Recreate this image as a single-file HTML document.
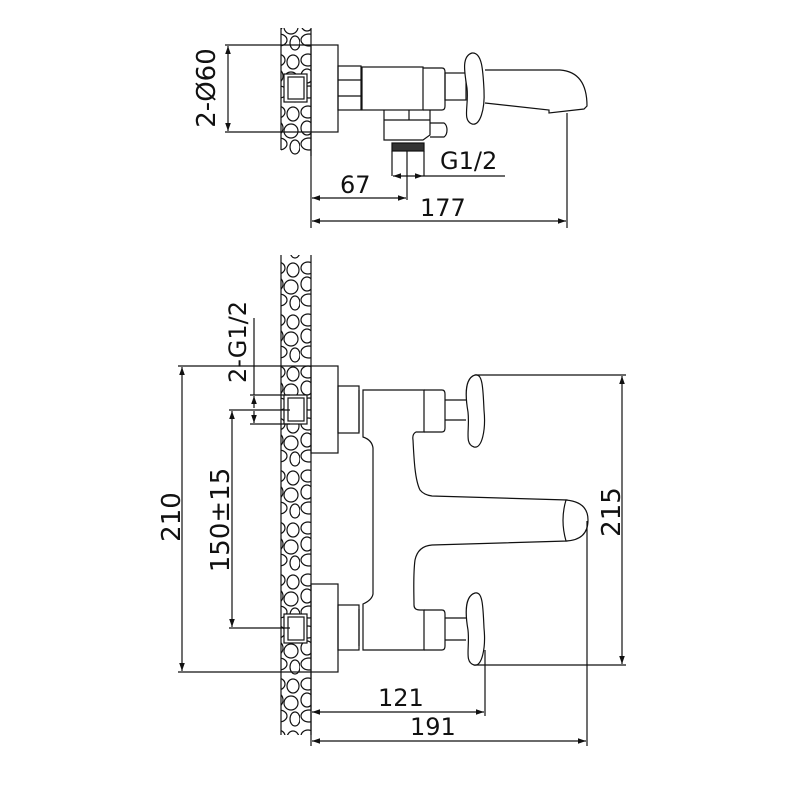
<!DOCTYPE html>
<html><head><style>body{margin:0;background:#fff}svg{display:block}</style></head><body>
<svg width="800" height="800" viewBox="0 0 800 800" xmlns="http://www.w3.org/2000/svg" font-family="'DejaVu Sans','Liberation Sans',sans-serif" font-size="22" fill="none" stroke="#111" stroke-width="1.2">
<defs>
<pattern id="peb" width="30" height="52" patternUnits="userSpaceOnUse">
<ellipse cx="8" cy="8" rx="7" ry="6"/><ellipse cx="23" cy="10" rx="6" ry="7"/>
<ellipse cx="7" cy="24" rx="6" ry="7"/><ellipse cx="21" cy="27" rx="7" ry="7"/>
<ellipse cx="9" cy="40" rx="8" ry="6"/><ellipse cx="25" cy="43" rx="5" ry="7"/>
</pattern>
<marker id="a" viewBox="0 0 10 10" refX="10" refY="5" markerWidth="11" markerHeight="8" orient="auto-start-reverse" markerUnits="userSpaceOnUse"><path d="M0,1.5L10,5L0,8.5z" fill="#111" stroke="none"/></marker>
</defs>

<!-- TOP VIEW -->
<rect x="281" y="28" width="30" height="128" fill="url(#peb)" stroke="none"/>
<path d="M281,28V150M311,28V156"/>
<rect x="284" y="74" width="23" height="28" fill="#fff"/>
<rect x="288" y="77" width="16" height="22"/>
<rect x="311" y="45" width="27" height="87"/>
<rect x="338" y="66" width="23" height="44"/>
<path d="M338,80H361M338,96H361"/>
<rect x="362" y="67" width="61" height="43"/>
<path d="M423,68H442Q445,68 445,72V106Q445,110 442,110H423"/>
<rect x="445" y="73" width="21" height="27"/>
<path d="M472,53C462,56 464,70 467,88C469,106 462,120 472,124C480,126 485,110 484,90C483,70 482,52 472,53Z" fill="#fff"/>
<path d="M485,70H560Q587,72 587,106L584,109L549,113V110L485,103"/>
<path d="M384,110V140H423L430,135V110M384,120H430M409,110V120"/>
<path d="M430,123H444Q447,125 447,130Q447,135 444,137H430"/>
<rect x="392" y="143" width="32" height="8" fill="#333"/>
<path d="M392,151V176M424,151V176M407,151V200"/>
<!-- dims top -->
<path d="M225,45H311M225,132H311"/>
<line x1="228" y1="46" x2="228" y2="131" marker-start="url(#a)" marker-end="url(#a)"/>
<text transform="translate(215,88) rotate(-90)" text-anchor="middle" fill="#111" stroke="none" font-size="26">2-Ø60</text>
<line x1="393" y1="176" x2="423" y2="176" marker-start="url(#a)" marker-end="url(#a)"/>
<path d="M423,176H505"/>
<text x="440" y="169" fill="#111" stroke="none" font-size="24">G1/2</text>
<path d="M311,132V228M567,113V228"/>
<line x1="312" y1="198" x2="406" y2="198" marker-start="url(#a)" marker-end="url(#a)"/>
<text x="340" y="193" fill="#111" stroke="none" font-size="24">67</text>
<line x1="312" y1="221" x2="566" y2="221" marker-start="url(#a)" marker-end="url(#a)"/>
<text x="420" y="216" fill="#111" stroke="none" font-size="24">177</text>

<!-- FRONT VIEW -->
<rect x="281" y="255" width="30" height="480" fill="url(#peb)" stroke="none"/>
<path d="M281,255V735M311,255V735"/>
<rect x="284" y="395" width="23" height="29" fill="#fff"/><rect x="288" y="398" width="16" height="23"/>
<rect x="284" y="614" width="23" height="29" fill="#fff"/><rect x="288" y="617" width="16" height="23"/>
<rect x="311" y="366" width="27" height="87"/>
<rect x="311" y="584" width="27" height="88"/>
<rect x="338" y="386" width="21" height="47"/>
<rect x="338" y="605" width="21" height="45"/>
<path d="M359,390V432M359,609V646"/>
<path d="M363,390H424V432H416Q412,434 413,440C414,460 415,480 420,490Q424,495 432,496L567,500L567,541L432,545Q418,546 415,560C413,575 414,595 414,605Q414,610 420,610H424V650H363V604Q372,600 373,594V448Q372,440 363,437Z"/>
<path d="M566,500Q588,502 588,520Q588,540 566,541Q560,520 566,500Z" fill="#fff"/>
<path d="M424,390H442Q445,390 445,394V428Q445,432 442,432H424"/>
<path d="M424,610H442Q445,610 445,614V646Q445,650 442,650H424"/>
<path d="M445,400H466M445,420H466M445,618H466M445,640H466"/>
<path d="M475,375C465,378 465,395 468,412C470,430 464,444 474,447C482,449 486,430 484,410C483,390 483,373 475,375Z" fill="#fff"/>
<path d="M475,593C465,596 465,613 468,630C470,648 464,662 474,665C482,667 486,648 484,628C483,608 483,591 475,593Z" fill="#fff"/>
<!-- dims front -->
<path d="M178,366H311M178,672H311"/>
<line x1="182" y1="367" x2="182" y2="671" marker-start="url(#a)" marker-end="url(#a)"/>
<text transform="translate(180,517) rotate(-90)" text-anchor="middle" fill="#111" stroke="none" font-size="26">210</text>
<path d="M229,410H290M229,628H290"/>
<line x1="232" y1="411" x2="232" y2="627" marker-start="url(#a)" marker-end="url(#a)"/>
<text transform="translate(229,520) rotate(-90)" text-anchor="middle" fill="#111" stroke="none" font-size="26">150±15</text>
<path d="M250,395H290M250,424H290M254,318V395"/>
<line x1="254" y1="408" x2="254" y2="396" marker-end="url(#a)"/>
<line x1="254" y1="411" x2="254" y2="423" marker-end="url(#a)"/>
<text transform="translate(246,342) rotate(-90)" text-anchor="middle" fill="#111" stroke="none" font-size="24">2-G1/2</text>
<path d="M475,375H626M474,665H626"/>
<line x1="622" y1="376" x2="622" y2="664" marker-start="url(#a)" marker-end="url(#a)"/>
<text transform="translate(620,512) rotate(-90)" text-anchor="middle" fill="#111" stroke="none" font-size="26">215</text>
<path d="M311,672V746M485,650V716M587,521V746"/>
<line x1="312" y1="712" x2="484" y2="712" marker-start="url(#a)" marker-end="url(#a)"/>
<text x="378" y="706" fill="#111" stroke="none" font-size="24">121</text>
<line x1="312" y1="741" x2="586" y2="741" marker-start="url(#a)" marker-end="url(#a)"/>
<text x="410" y="735" fill="#111" stroke="none" font-size="24">191</text>
</svg>
</body></html>
